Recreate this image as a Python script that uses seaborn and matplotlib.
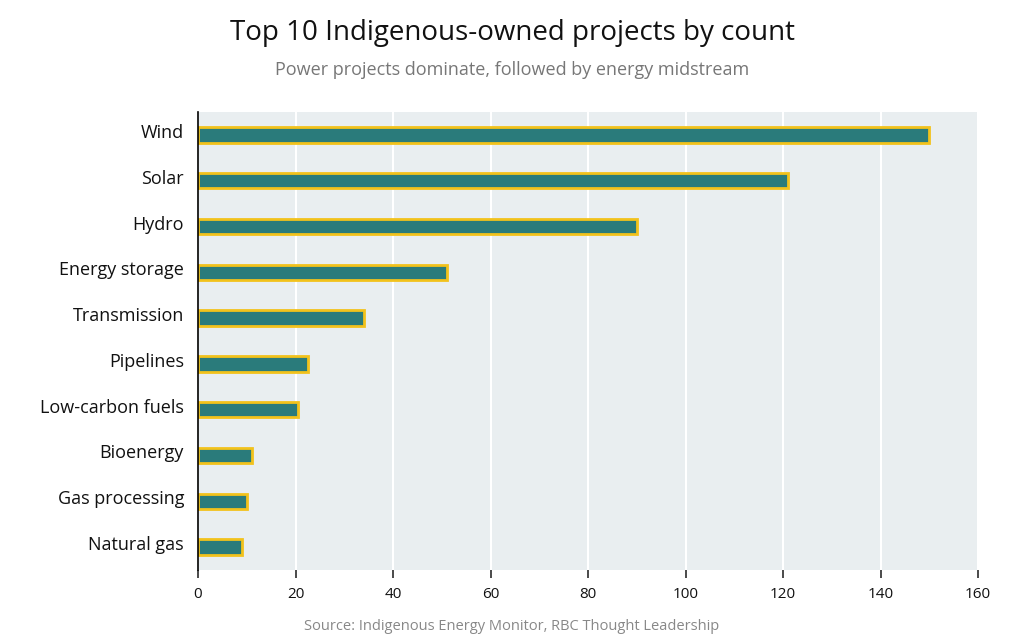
import matplotlib
matplotlib.use("Agg")
import matplotlib.pyplot as plt
import matplotlib.transforms as mtrans
import seaborn as sns
import pandas as pd

categories = ["Wind", "Solar", "Hydro", "Energy storage", "Transmission", "Pipelines",
              "Low-carbon fuels", "Bioenergy", "Gas processing", "Natural gas"]
counts = [150, 121, 90, 51, 34, 22.5, 20.5, 11, 10, 9]

sns.set_theme(style="white")
plt.rcParams['font.family'] = ['Open Sans', 'DejaVu Sans']

df = pd.DataFrame({"category": categories, "count": counts})
fig = plt.figure(figsize=(10.24, 6.43), dpi=100)
ax = fig.add_axes([198/1024, 1-570/643, 780/1024, 458/643])
ax.set_facecolor("#e9eef0")
sns.barplot(data=df, y="category", x="count", ax=ax, color="#2a7b7b",
            edgecolor="#f2c21b", linewidth=2, width=0.34, saturation=1)
ax.set_xlim(0, 160)
ax.set_xticks(range(0, 161, 20))
ax.grid(axis="x", color="white", linewidth=1.5)
ax.set_axisbelow(True)
for s in ["top", "right", "bottom"]:
    ax.spines[s].set_visible(False)
ax.spines["left"].set_color("black")
ax.spines["left"].set_linewidth(1.2)
ax.tick_params(axis="x", bottom=True, length=6, color="#333333", labelsize=11,
               labelcolor="#111111", pad=6)
ax.tick_params(axis="y", left=False, labelsize=13, pad=4, labelcolor="#111111")
offset = mtrans.ScaledTranslation(0, 4/100, fig.dpi_scale_trans)
for lbl in ax.get_yticklabels():
    lbl.set_transform(lbl.get_transform() + offset)
ax.set_xlabel("")
ax.set_ylabel("")
fig.text(0.5, 1-33/643, "Top 10 Indigenous-owned projects by count", ha="center", va="center",
         fontsize=20, color="#111111")
fig.text(0.5, 1-70/643, "Power projects dominate, followed by energy midstream", ha="center",
         va="center", fontsize=13, color="#777777")
fig.text(0.5, 1-626/643, "Source: Indigenous Energy Monitor, RBC Thought Leadership", ha="center",
         va="center", fontsize=10.5, color="#888888")
fig.savefig("out.png", dpi=100)
